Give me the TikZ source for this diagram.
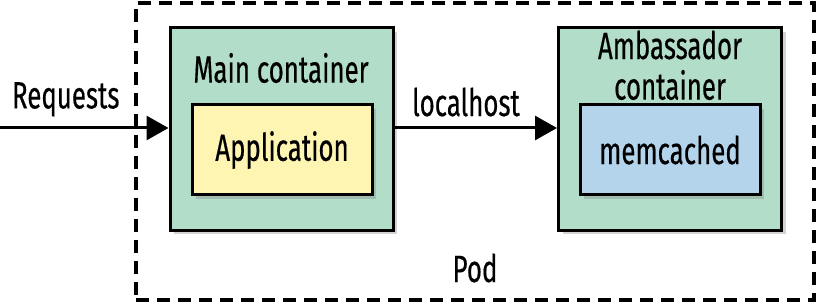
\documentclass[tikz,border=0pt]{standalone}
\usepackage{fontspec}
\setmainfont[FakeStretch=0.68, FakeBold=0.4]{Fira Sans}
\usepackage{tikz}
\usetikzlibrary{arrows.meta,positioning,shadows}
\definecolor{contgreen}{RGB}{178,221,200}
\definecolor{appyellow}{RGB}{255,245,178}
\definecolor{memblue}{RGB}{180,212,236}
\tikzset{
  box/.style={draw=black, line width=1.5pt, align=center, font=\fontsize{19}{21}\selectfont,
    drop shadow={opacity=0.35, shadow xshift=2pt, shadow yshift=-2pt}},
  container/.style={box, fill=contgreen, minimum width=111.5pt, minimum height=101pt},
  inner/.style={box, fill=#1, minimum width=90pt, minimum height=45pt},
  podbox/.style={draw=black, line width=2pt, dash pattern=on 6.5pt off 4pt,
    minimum width=339pt, minimum height=148.5pt},
  lbl/.style={font=\fontsize{19}{21}\selectfont, align=center, inner sep=0pt},
  arr/.style={-{Triangle[length=11pt,width=12pt]}, line width=1.5pt}
}
\begin{document}
\begin{tikzpicture}[x=0.5pt, y=-0.5pt]
  \useasboundingbox (0,0) rectangle (818,304);
  \node[podbox] (pod) at (475,151.5) {};
  \node[container] (main) at (281.5,129) {};
  \node[container] (amb) at (670,129) {};
  \node[inner=appyellow] (app) at (282,150) {Application};
  \node[inner=memblue] (memc) at (670,150) {memcached};

  \node[lbl] (mainlbl) at (281,68) {Main container};
  \node[lbl] (amblbl) at (670,45) {Ambassador};
  \node[lbl] (amblbl2) at (670,85) {container};
  \node[lbl] (podlbl) at (475,268) {Pod};

  \coordinate (src) at (0,128);
  \draw[arr] (src) -- (main.west |- src) node[lbl, pos=0.39, above=5pt] (reqlbl) {Requests};
  \draw[arr] (main.east |- src) -- (amb.west |- src) node[lbl, pos=0.44, above=5pt] (lhlbl) {localhost};
\end{tikzpicture}
\end{document}
